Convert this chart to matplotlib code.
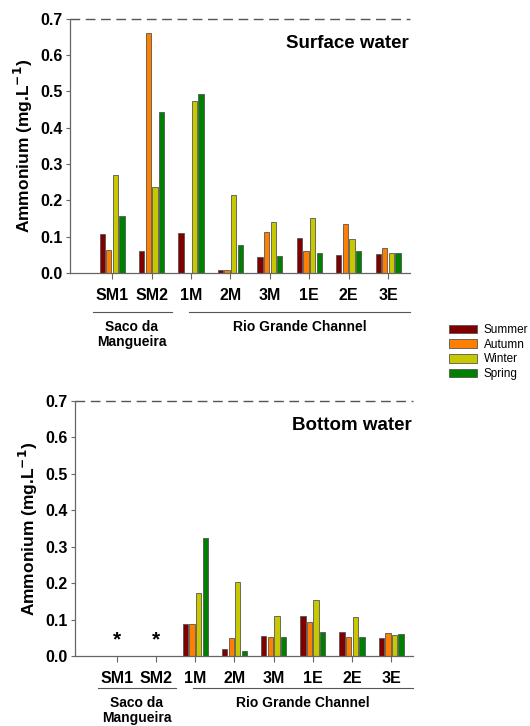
import numpy as np
import matplotlib.pyplot as plt
from matplotlib.patches import Patch

plt.rcParams['font.family'] = ['Liberation Sans', 'DejaVu Sans']

sites = ['SM1', 'SM2', '1M', '2M', '3M', '1E', '2E', '3E']
seasons = ['Summer', 'Autumn', 'Winter', 'Spring']
colors = ['#800000', '#FF8000', '#C8C800', '#008000']

# surface water (mg.L-1)
surf_summer = [0.107, 0.060, 0.110, 0.009, 0.045, 0.095, 0.050, 0.053]
surf_autumn = [0.064, 0.660, np.nan, 0.009, 0.114, 0.061, 0.135, 0.068]
surf_winter = [0.271, 0.236, 0.474, 0.214, 0.141, 0.151, 0.094, 0.055]
surf_spring = [0.158, 0.443, 0.493, 0.077, 0.048, 0.054, 0.061, 0.054]

# bottom water, no samples at SM1/SM2
bot_summer = [np.nan, np.nan, 0.087, 0.019, 0.056, 0.109, 0.065, 0.049]
bot_autumn = [np.nan, np.nan, 0.088, 0.050, 0.053, 0.093, 0.053, 0.063]
bot_winter = [np.nan, np.nan, 0.172, 0.203, 0.111, 0.153, 0.106, 0.059]
bot_spring = [np.nan, np.nan, 0.324, 0.014, 0.053, 0.067, 0.051, 0.061]

surface = [surf_summer, surf_autumn, surf_winter, surf_spring]
bottom = [bot_summer, bot_autumn, bot_winter, bot_spring]

fig = plt.figure(figsize=(5.3, 7.26), dpi=100)
ax1 = fig.add_axes([0.132, 0.624, 0.642, 0.350])
ax2 = fig.add_axes([0.1415, 0.0964, 0.638, 0.3512])

x = np.arange(len(sites))
w = 0.135
offs = np.array([-1.5, -0.5, 0.5, 1.5]) * 0.168


def draw(ax, data, title, line_y, txt_y):
    for k in range(4):
        ax.bar(x + offs[k], data[k], w, color=colors[k], edgecolor='#555555', linewidth=0.6)
    ax.set_xlim(-1.07, 7.56)
    ax.set_ylim(0, 0.7)
    ax.plot([-1.07, 7.56], [0.7, 0.7], ls=(0, (7, 4)), color='#555555', lw=1.0, clip_on=False)
    for s in ['top', 'right']:
        ax.spines[s].set_visible(False)
    for s in ['left', 'bottom']:
        ax.spines[s].set_color('#666666')
        ax.spines[s].set_linewidth(0.9)
    ax.set_yticks(np.arange(0, 0.71, 0.1))
    ax.set_yticklabels(['%.1f' % v for v in np.arange(0, 0.71, 0.1)], fontsize=11.5, fontweight='bold')
    ax.set_xticks(x)
    ax.set_xticklabels(sites, fontsize=11.5, fontweight='bold')
    ax.tick_params(axis='x', length=4, pad=7, color='#666666')
    ax.tick_params(axis='y', length=3, pad=2, color='#666666')
    ax.set_ylabel('Ammonium (mg.L$^{\\mathbf{-1}}$)', fontsize=12.5, fontweight='bold', labelpad=4)
    ax.text(0.995, 0.905, title, transform=ax.transAxes, ha='right', va='center',
            fontsize=13.5, fontweight='bold')
    tr = ax.get_xaxis_transform()
    ax.plot([-0.48, 1.52], [line_y, line_y], color='#555555', lw=0.8, transform=tr, clip_on=False)
    ax.plot([1.95, 7.56], [line_y, line_y], color='#555555', lw=0.8, transform=tr, clip_on=False)
    ax.text(0.5, txt_y, 'Saco da\nMangueira', transform=tr, ha='center', va='top',
            fontsize=10, fontweight='bold', linespacing=1.1)
    ax.text(4.75, txt_y, 'Rio Grande Channel', transform=tr, ha='center', va='top',
            fontsize=10, fontweight='bold')


draw(ax1, surface, 'Surface water', -0.154, -0.185)
draw(ax2, bottom, 'Bottom water', -0.125, -0.158)

for i in [0, 1]:
    ax2.text(x[i], 0.045, '*', ha='center', va='center', fontsize=15, fontweight='bold')

handles = [Patch(facecolor=c, edgecolor='#555555', linewidth=0.6, label=s) for s, c in zip(seasons, colors)]
fig.legend(handles=handles, loc='center left', bbox_to_anchor=(0.847, 0.515), frameon=False,
           fontsize=8.5, handlelength=2.4, handleheight=0.75, labelspacing=0.22, handletextpad=0.55,
           borderpad=0, borderaxespad=0)

fig.savefig('out.png', dpi=100)
